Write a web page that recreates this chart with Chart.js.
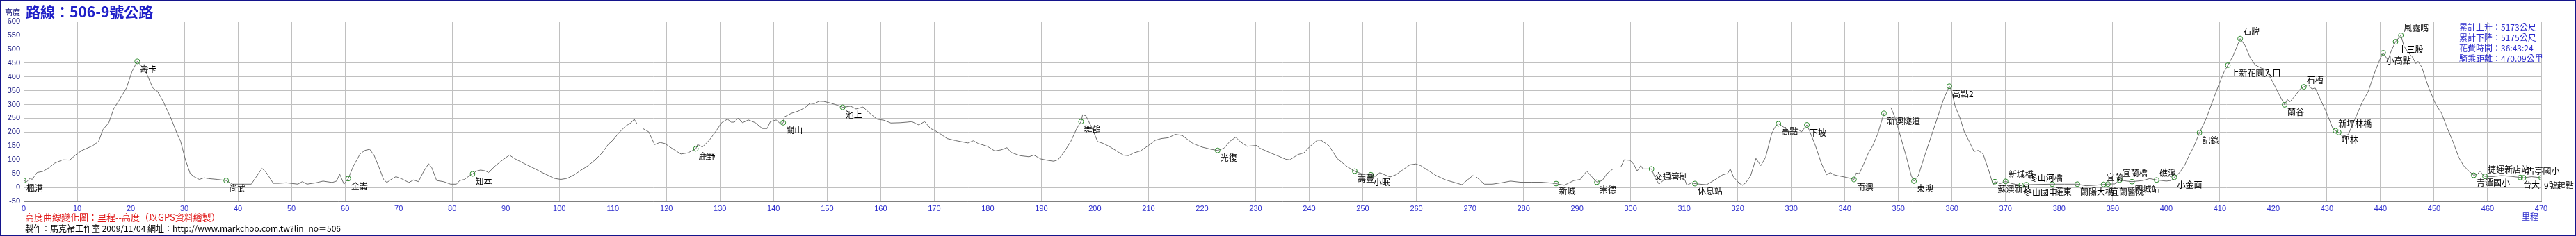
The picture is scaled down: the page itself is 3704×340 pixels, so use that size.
<!DOCTYPE html>
<html>
<head>
<meta charset="utf-8">
<script src="https://cdn.jsdelivr.net/npm/chart.js@4/dist/chart.umd.min.js"></script>
<style>
html,body{margin:0;padding:0;background:#fff;}
canvas{display:block;}
</style>
</head>
<body>
<canvas id="c" width="3704" height="340"></canvas>
<script>
// ---------- DATA ----------
const titleText = '路線：506-9號公路';
const yAxisTitle = '高度';
const xAxisTitle = '里程';
const subtitleText = '高度曲線變化圖：里程--高度（以GPS資料繪製）';
const creditText = '製作：馬克褚工作室 2009/11/04 網址：http://www.markchoo.com.tw?lin_no＝506';
const statLines = ['累計上升：5173公尺', '累計下降：5175公尺', '花費時間：36:43:24', '騎乘距離：470.09公里'];

const xMin = 0, xMax = 470, xStep = 10;
const yMin = -50, yMax = 600, yStep = 50;

// distance (km)
const km = [
0,0.6,1.2,1.6,2.5,3.6,4.7,5.8,7.3,8.6,9.9,10.9,12.9,14.0,14.8,15.9,16.8,17.9,19.2,20.2,
21.2,22.2,23.0,24.1,25.0,26.1,27.4,28.7,29.3,30.2,31.1,31.9,32.8,33.7,34.5,36.2,37.8,39.0,42.5,43.4,
44.5,45.3,46.6,47.7,49.0,51.2,52.0,52.9,54.6,55.9,57.6,58.4,59.0,59.8,60.6,61.5,62.8,63.7,64.6,65.4,
66.3,67.2,67.8,68.9,69.5,70.6,71.9,72.8,73.7,74.7,75.6,76.2,77.1,78.4,79.7,80.8,81.4,82.3,83.2,83.8,
84.5,85.3,86.2,86.8,88.1,89.2,90.1,90.7,91.6,93.3,95.1,96.8,98.1,99.0,100.3,101.5,102.8,104.1,105.4,106.7,
108.0,109.1,110.0,111.1,112.4,113.4,114.0,114.5,115.0,115.6,116.7,117.8,118.8,119.7,121.0,122.7,124.0,125.5,125.8,126.2,
126.7,128.0,129.3,130.3,131.4,132.1,132.7,133.4,134.2,135.3,136.6,137.9,138.8,139.4,140.5,141.4,141.8,142.0,143.3,144.6,
145.9,146.8,147.6,148.5,149.4,150.7,152.0,152.9,154.4,155.4,156.7,158.0,159.3,160.6,161.9,163.6,164.9,165.8,167.1,168.2,
169.3,170.0,170.9,172.4,173.9,175.2,176.3,177.3,178.2,179.9,181.3,182.5,183.6,184.3,186.0,187.7,188.6,189.9,191.2,192.3,
193.1,194.2,195.5,196.6,197.4,197.7,198.3,199.4,200.5,201.6,202.9,204.2,205.3,206.3,207.2,208.5,210.0,211.3,212.4,213.7,
215.0,216.3,218.3,220.0,221.7,222.9,224.1,225.2,226.3,227.1,228.4,230.2,230.8,232.5,234.3,235.6,236.4,237.9,239.0,240.0,
241.5,242.2,243.7,245.2,247.1,248.5,249.7,251.5,252.3,253.2,253.8,255.1,256.2,257.4,258.8,259.9,260.8,262.1,263.8,265.5,
267.3,268.5,269.4,270.6,270.9,271.2,272.7,274.2,275.9,277.6,279.4,281.5,283.3,284.6,286.1,287.6,289.4,290.6,291.8,292.8,
293.7,294.7,295.6,296.7,297.5,298.2,298.8,299.9,300.6,301.2,301.9,302.3,303.9,304.5,305.3,306.2,307.3,308.6,310.1,310.5,
311.4,312.0,312.9,314.2,315.5,317.2,318.1,318.6,319.2,320.3,320.9,321.5,322.4,323.4,324.3,325.2,326.3,326.9,327.6,328.5,
329.8,331.0,331.9,332.9,333.4,334.5,335.6,336.6,337.3,337.9,338.8,339.9,341.0,341.7,342.1,342.7,343.5,344.4,345.2,346.1,
347.3,348.0,348.6,349.4,350.4,351.5,352.4,352.9,353.7,354.8,356.1,357.4,358.4,359.5,359.9,360.6,361.5,362.3,363.2,364.1,
364.9,365.8,366.9,367.7,368.0,369.0,370.0,371.2,372.9,373.9,376.0,378.7,381.0,383.4,385.0,386.7,388.3,389.1,390.4,391.3,
392.6,393.6,395.6,396.9,398.2,400.0,400.9,401.5,402.5,403.4,404.3,405.1,406.2,407.5,408.6,409.9,410.8,411.5,412.5,413.8,
414.7,415.7,416.6,417.7,418.5,419.8,421.1,422.1,422.6,423.1,424.2,425.0,425.7,426.5,427.2,427.8,428.7,429.8,431.1,431.6,
432.2,432.9,434.0,435.3,436.6,437.7,438.8,439.9,440.5,441.4,442.0,442.8,443.8,444.4,445.3,445.9,446.6,447.0,447.7,449.0,
450.3,451.4,452.4,453.5,454.6,455.5,456.3,457.4,458.1,458.6,459.1,459.5,460.9,462.6,464.4,466.1,466.7,468.2,470.0
];
// elevation (m); null = GPS gap
const elev = [
25,21,33,29,54,58,71,88,100,99,121,134,151,167,209,234,284,318,360,418,
456,435,410,360,347,309,255,192,167,100,50,38,29,35,32,29,25,12,12,38,
69,54,15,15,17,12,21,12,17,23,18,23,48,12,32,75,121,134,138,117,
75,29,18,33,39,31,18,27,21,59,86,71,25,21,12,12,25,29,42,49,
59,63,60,54,79,96,109,117,105,88,71,54,42,33,29,33,46,63,79,100,
125,155,171,197,222,234,247,230,null,213,201,155,163,159,142,121,125,140,155,152,
146,171,205,234,247,236,236,251,234,244,234,213,213,238,244,228,234,255,268,276,
289,305,303,312,311,305,297,290,294,284,291,268,247,243,233,234,236,238,226,238,
213,207,197,177,170,165,161,169,159,149,132,136,144,127,115,111,117,103,98,95,
100,127,167,213,238,263,259,217,166,159,146,130,117,115,125,132,152,171,177,180,
192,188,159,146,138,134,142,167,182,166,149,152,142,127,113,102,100,119,125,146,
171,171,151,105,75,59,50,46,40,54,48,38,46,63,82,85,79,63,42,27,
17,10,25,44,null,38,12,12,17,23,19,19,19,17,14,8,25,29,59,38,
19,25,50,67,null,75,100,98,84,59,79,67,67,38,12,27,29,40,29,8,
17,14,12,10,25,46,50,67,38,15,8,17,42,105,79,109,192,217,230,219,
201,213,201,226,205,151,88,46,54,46,42,38,33,29,52,50,84,125,151,192,
268,null,289,251,184,109,42,23,42,109,184,259,318,366,351,293,251,201,167,130,
134,121,59,8,21,14,22,14,8,10,11,12,12,12,6,8,11,12,13,27,
23,21,25,32,27,23,25,37,54,79,117,146,198,251,309,376,418,442,477,538,
514,468,443,432,427,385,335,299,318,310,335,356,364,372,356,360,322,276,213,205,
199,184,192,251,309,347,410,464,487,460,494,527,550,510,485,473,448,456,435,360,
301,268,217,167,109,79,63,44,48,60,44,40,39,43,40,36,35,39,35
];

// named stops along the route
const stopNames = ['楓港','壽卡','尚武','金崙','知本','鹿野','關山','池上','舞鶴','光復','壽豐','小眠',
'新城','崇德','交通管制','休息站','高點','下坡','南澳','新澳隧道','東澳','高點2','蘇澳新站','新城橋',
'冬山國中','冬山河橋','羅東','蘭陽大橋','宜蘭','宜蘭醫院','宜蘭橋','四城站','礁溪','小金面','記錄',
'上新花園入口','石牌','蘭谷','石槽','新坪林橋','坪林','小高點','十三股','風露嘴','青潭國小','捷運新店站',
'台大','古亭國小','9號起點'];
const stopKm = [0,21.2,37.8,60.6,83.8,125.5,141.8,152.9,197.4,222.9,248.5,251.5,
286.1,293.7,303.9,312.0,327.6,332.9,341.7,347.3,352.9,359.5,368.0,370.0,
372.9,373.9,378.7,383.4,388.3,389.1,391.3,393.6,398.2,401.5,406.2,
411.5,413.8,422.1,425.7,431.6,432.2,440.5,442.8,443.8,457.4,459.5,
466.1,466.7,470.0];
const stopElev = [25,456,25,32,49,140,234,290,238,134,59,46,
14,19,67,14,230,226,29,268,23,366,21,22,
8,10,12,12,11,12,27,21,27,37,198,
442,538,299,364,205,199,487,527,550,44,40,
36,35,35];
// label side: 'a' above-right, 'b' below-right
const stopSide = ['b','b','b','b','b','b','b','b','b','b','b','b',
'b','b','b','b','b','b','b','b','b','b','b','a',
'b','a','b','b','a','b','a','b','a','b','b',
'b','a','b','a','a','b','b','b','a','b','a',
'b','a','b'];

// ---------- CHART ----------
const profile = km.map((k, i) => ({x: k, y: elev[i]}));
const stops = stopKm.map((k, i) => ({x: k, y: stopElev[i]}));

const LATIN = '"Liberation Sans", Arial, "Noto Sans CJK TC", sans-serif';
const CJK = '"Noto Sans CJK TC", "Liberation Sans", sans-serif';

const overlay = {
  id: 'overlay',
  beforeDraw(chart) {
    const ctx = chart.ctx;
    ctx.save();
    ctx.fillStyle = '#ffffff';
    ctx.fillRect(0, 0, chart.width, chart.height);
    ctx.restore();
  },
  afterDraw(chart) {
    const ctx = chart.ctx;
    const xs = chart.scales.x, ys = chart.scales.y;
    ctx.save();
    // stop labels
    ctx.font = '12px ' + CJK;
    ctx.fillStyle = '#000000';
    ctx.textAlign = 'left';
    ctx.textBaseline = 'middle';
    stopNames.forEach((n, i) => {
      const px = xs.getPixelForValue(stopKm[i]);
      const py = ys.getPixelForValue(stopElev[i]);
      ctx.fillText(n, px + 4, py + (stopSide[i] === 'a' ? -10 : 11));
    });
    // y axis title
    ctx.font = '11px ' + CJK;
    ctx.fillStyle = '#1a1a80';
    ctx.fillText(yAxisTitle, 7, 18);
    // main title
    ctx.font = 'bold 21px ' + CJK;
    ctx.fillStyle = '#2020c8';
    ctx.fillText(titleText, 37, 17.5);
    // stats
    ctx.font = '12px ' + CJK;
    ctx.fillStyle = '#2a2acc';
    statLines.forEach((t, i) => ctx.fillText(t, 3536, 39 + i * 15));
    // x axis title
    ctx.fillText(xAxisTitle, 3626, 312);
    // subtitle (red) and credits
    ctx.font = '13px ' + CJK;
    ctx.fillStyle = '#e01818';
    ctx.fillText(subtitleText, 36, 313);
    ctx.font = '12px ' + CJK;
    ctx.fillStyle = '#000000';
    ctx.fillText(creditText, 36, 329);
    // outer frame
    ctx.strokeStyle = '#14148c';
    ctx.lineWidth = 2;
    ctx.strokeRect(1, 1, chart.width - 2, chart.height - 2);
    ctx.restore();
  }
};

new Chart(document.getElementById('c'), {
  type: 'line',
  data: {
    datasets: [
      {
        label: 'stops',
        data: stops,
        showLine: false,
        pointRadius: 3.5,
        pointBorderWidth: 1,
        pointBorderColor: '#2e8b2e',
        pointBackgroundColor: 'rgba(0,0,0,0)',
        order: 0
      },
      {
        label: 'elevation',
        data: profile,
        borderColor: '#6e6e6e',
        borderWidth: 1,
        pointRadius: 0,
        tension: 0,
        spanGaps: false,
        fill: false,
        order: 1
      }
    ]
  },
  options: {
    responsive: false,
    devicePixelRatio: 1,
    animation: false,
    events: [],
    layout: {padding: {left: 0, top: 31, right: 50, bottom: 0}},
    plugins: {legend: {display: false}, tooltip: {enabled: false}},
    scales: {
      x: {
        type: 'linear',
        min: xMin, max: xMax,
        afterFit(s) { s.height = 50; },
        ticks: {stepSize: xStep, padding: 4, color: '#2a2acc', font: {family: LATIN, size: 11}, maxRotation: 0, autoSkip: false},
        grid: {color: '#c0c0c0', drawTicks: false, lineWidth: 1},
        border: {color: '#808080', width: 1}
      },
      y: {
        type: 'linear',
        min: yMin, max: yMax,
        afterFit(s) { s.width = 34; },
        ticks: {stepSize: yStep, padding: 5, color: '#1a1a80', font: {family: LATIN, size: 11}},
        grid: {color: '#c0c0c0', drawTicks: false, lineWidth: 1},
        border: {color: '#808080', width: 1}
      }
    }
  },
  plugins: [overlay]
});
</script>
</body>
</html>
